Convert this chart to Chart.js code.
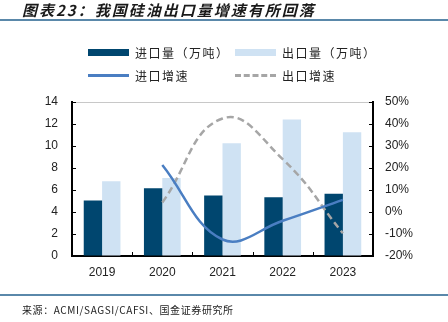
<!DOCTYPE html>
<html>
<head>
<meta charset="utf-8">
<script src="https://cdn.jsdelivr.net/npm/chart.js@4/dist/chart.umd.min.js"></script>
<style>
  html, body { margin: 0; padding: 0; background: #fff; }
  #wrap { position: relative; width: 448px; height: 322px; overflow: hidden;
          font-family: "Noto Sans CJK SC", "Noto Sans", sans-serif; }
  #chart { position: absolute; left: 0; top: 0; }
  .title { position: absolute; left: 22px; top: -1px; font-size: 15px; font-weight: bold;
           font-style: italic; letter-spacing: 2px; color: #1a1a1a; white-space: nowrap; }
  .rule { position: absolute; left: 0; width: 448px; height: 2px; background: #5a88aa; }
  .source { position: absolute; left: 22px; top: 302px; font-size: 10px; color: #222;
            letter-spacing: 0.6px; white-space: nowrap; }
  .lg { position: absolute; display: flex; align-items: center; font-size: 12px;
        letter-spacing: 1.5px; color: #222; white-space: nowrap; }
  .sw { width: 41px; margin-right: 6px; }
</style>
</head>
<body>
<div id="wrap">
  <canvas id="chart" width="448" height="322"></canvas>
  <div class="title">图表23：我国硅油出口量增速有所回落</div>
  <div class="rule" style="top:19px"></div>
  <div id="legend"></div>
  <div class="rule" style="top:294px;height:1.5px"></div>
  <div class="source">来源：ACMI/SAGSI/CAFSI、国金证券研究所</div>
</div>
<script>
// 数据（万吨 / %）
const years = ['2019', '2020', '2021', '2022', '2023'];
const importVolume = [5.05, 6.15, 5.5, 5.35, 5.65];
const exportVolume = [6.8, 7.1, 10.25, 12.4, 11.25];
const importGrowth = [null, 21.4, -12.5, -4.0, 5.5];
const exportGrowth = [null, 4.3, 42.5, 24.0, -9.7];

const colors = {
  importBar: '#00466f',
  exportBar: '#cfe2f3',
  importLine: '#4a7ec2',
  exportLine: '#a6a6a6'
};

// axis ticks drawn inward like the source chart
const innerTicks = {
  id: 'innerTicks',
  afterDraw(chart) {
    const { ctx, chartArea: a, scales } = chart;
    ctx.save();
    ctx.strokeStyle = '#000';
    ctx.lineWidth = 1;
    scales.y.ticks.forEach(t => {
      const y = Math.round(scales.y.getPixelForValue(t.value)) + 0.5;
      ctx.beginPath(); ctx.moveTo(a.left, y); ctx.lineTo(a.left + 4, y); ctx.stroke();
    });
    scales.y1.ticks.forEach(t => {
      const y = Math.round(scales.y1.getPixelForValue(t.value)) + 0.5;
      ctx.beginPath(); ctx.moveTo(a.right - 4, y); ctx.lineTo(a.right, y); ctx.stroke();
    });
    for (let i = 1; i < years.length; i++) {
      const x = Math.round((scales.x.getPixelForValue(i - 1) + scales.x.getPixelForValue(i)) / 2) + 0.5;
      ctx.beginPath(); ctx.moveTo(x, a.bottom); ctx.lineTo(x, a.bottom - 4); ctx.stroke();
    }
    ctx.restore();
  }
};

const chart = new Chart(document.getElementById('chart').getContext('2d'), {
  data: {
    labels: years,
    datasets: [
      { type: 'line', label: '进口增速', data: importGrowth, yAxisID: 'y1',
        borderColor: colors.importLine, borderWidth: 2.5, pointRadius: 0, tension: 0.4, order: 0 },
      { type: 'line', label: '出口增速', data: exportGrowth, yAxisID: 'y1',
        borderColor: colors.exportLine, borderWidth: 2.5, borderDash: [7, 4], pointRadius: 0,
        tension: 0.45, order: 1 },
      { type: 'bar', label: '进口量（万吨）', data: importVolume, yAxisID: 'y',
        backgroundColor: colors.importBar, categoryPercentage: 0.61, barPercentage: 1, order: 2 },
      { type: 'bar', label: '出口量（万吨）', data: exportVolume, yAxisID: 'y',
        backgroundColor: colors.exportBar, categoryPercentage: 0.61, barPercentage: 1, order: 3 }
    ]
  },
  options: {
    responsive: false,
    animation: false,
    layout: { padding: { top: 102, left: 0, right: 0, bottom: 0 } },
    plugins: { legend: { display: false }, tooltip: { enabled: false } },
    scales: {
      x: {
        grid: { display: false, drawTicks: false },
        border: { color: '#000', width: 2 },
        ticks: { color: '#222', padding: 9, font: { family: 'Liberation Sans', size: 12 } },
        afterFit: s => { s.height = 66; }
      },
      y: {
        position: 'left', min: 0, max: 14,
        grid: { drawTicks: false, color: c => c.tick.value === 14 ? '#c8c8c8' : 'transparent' },
        border: { color: '#000', width: 2 },
        ticks: { stepSize: 2, color: '#222', padding: 14, font: { family: 'Liberation Sans', size: 12 } },
        afterFit: s => { s.width = 72; }
      },
      y1: {
        position: 'right', min: -20, max: 50,
        grid: { display: false, drawTicks: false },
        border: { color: '#000', width: 2 },
        ticks: { stepSize: 10, color: '#222', padding: 12, font: { family: 'Liberation Sans', size: 12 },
                 callback: v => v + '%' },
        afterFit: s => { s.width = 75; }
      }
    }
  },
  plugins: [innerTicks]
});

// legend in two rows, as in the source
const legendItems = [
  { i: 2, x: 88, y: 44, kind: 'box' },
  { i: 3, x: 235, y: 44, kind: 'box' },
  { i: 0, x: 88, y: 67, kind: 'line' },
  { i: 1, x: 235, y: 67, kind: 'dash' }
];
const lg = document.getElementById('legend');
legendItems.forEach(it => {
  const ds = chart.data.datasets[it.i];
  const el = document.createElement('div');
  el.className = 'lg';
  el.style.left = it.x + 'px';
  el.style.top = it.y + 'px';
  const sw = document.createElement('span');
  sw.className = 'sw';
  if (it.kind === 'box') {
    sw.style.height = '7px';
    sw.style.background = ds.backgroundColor;
  } else if (it.kind === 'line') {
    sw.style.height = '3px';
    sw.style.background = ds.borderColor;
  } else {
    sw.style.height = '0';
    sw.style.borderTop = '3px dashed ' + ds.borderColor;
  }
  el.appendChild(sw);
  el.appendChild(document.createTextNode(ds.label));
  lg.appendChild(el);
});
</script>
</body>
</html>
